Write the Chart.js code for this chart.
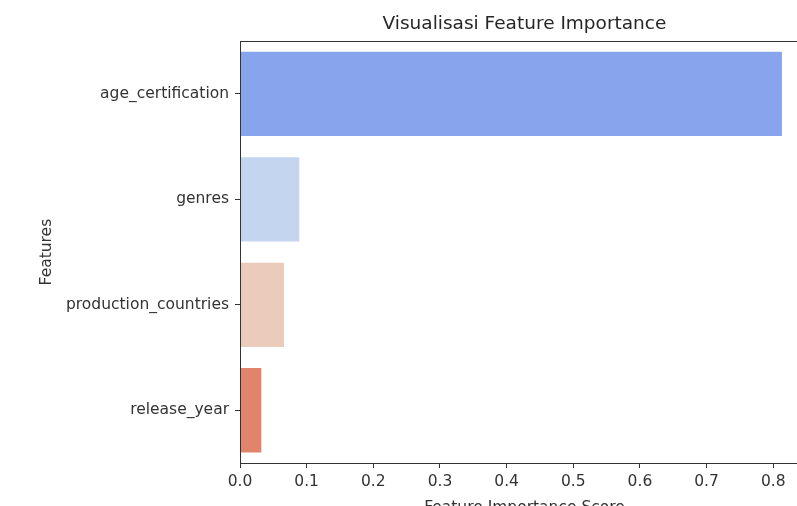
<!DOCTYPE html>
<html><head><meta charset="utf-8">
<script src="https://cdn.jsdelivr.net/npm/chart.js@4.4.0/dist/chart.umd.min.js"></script>
<style>html,body{margin:0;padding:0;overflow:hidden;background:#fff;width:797px;height:506px}canvas{display:block}</style>
</head><body>
<canvas id="c" width="820" height="520"></canvas>
<script>
const categories = ['age_certification', 'genres', 'production_countries', 'release_year'];
const importance = [0.813, 0.089, 0.066, 0.032];
const barColors = ['#88a4ec', '#c4d5f0', '#ebcbbb', '#e2836b'];
const xTickValues = [0.0, 0.1, 0.2, 0.3, 0.4, 0.5, 0.6, 0.7, 0.8];
const chartTitle = 'Visualisasi Feature Importance';
const xTitle = 'Feature Importance Score';
const yTitle = 'Features';

const FONT = 'DejaVu Sans';
const INK = '#333';
const LINE = '#333';

const frame = {
  id: 'frame',
  afterDatasetsDraw(chart) {
    const {ctx, chartArea: a} = chart;
    ctx.save();
    ctx.strokeStyle = LINE;
    ctx.lineWidth = 1;
    ctx.strokeRect(Math.round(a.left) + 0.5, Math.round(a.top) + 0.5, Math.round(a.right - a.left), Math.round(a.bottom - a.top));
    ctx.restore();
  }
};

new Chart(document.getElementById('c'), {
  type: 'bar',
  data: {
    labels: categories,
    datasets: [{
      data: importance,
      backgroundColor: barColors,
      borderWidth: 0,
      categoryPercentage: 0.8,
      barPercentage: 1
    }]
  },
  options: {
    indexAxis: 'y',
    responsive: false,
    animation: false,
    devicePixelRatio: 1,
    layout: {padding: {left: 0, right: 11, top: 0, bottom: 0}},
    plugins: {
      legend: {display: false},
      tooltip: {enabled: false},
      title: {
        display: true, text: chartTitle, fullSize: false, color: '#262626',
        font: {family: FONT, size: 18.5, weight: 'normal', lineHeight: 1.2},
        padding: {top: 13, bottom: 6}
      }
    },
    scales: {
      x: {
        type: 'linear', min: 0, max: Math.max(...importance) * 1.05,
        afterBuildTicks(s) { s.ticks = xTickValues.map(v => ({value: v})); },
        afterFit(s) { s.height = 57; },
        ticks: {callback: v => Number(v).toFixed(1), color: INK, font: {family: FONT, size: 15.5}, padding: 5, maxRotation: 0, autoSkip: false},
        grid: {display: true, drawOnChartArea: false, drawTicks: true, tickLength: 5, tickColor: LINE, tickWidth: 1},
        border: {display: true, color: LINE, width: 1},
        title: {display: true, text: xTitle, color: INK, font: {family: FONT, size: 15.5}, padding: {top: 0, bottom: 3}}
      },
      y: {
        afterFit(s) { s.width = 240; },
        ticks: {color: INK, font: {family: FONT, size: 15.5}, padding: 6, autoSkip: false},
        grid: {display: true, offset: false, drawOnChartArea: false, drawTicks: true, tickLength: 5, tickColor: LINE},
        border: {display: true, color: LINE, width: 1},
        title: {display: true, text: yTitle, color: INK, font: {family: FONT, size: 15.5}, padding: {top: 38, bottom: 0}}
      }
    }
  },
  plugins: [frame]
});
</script></body></html>
